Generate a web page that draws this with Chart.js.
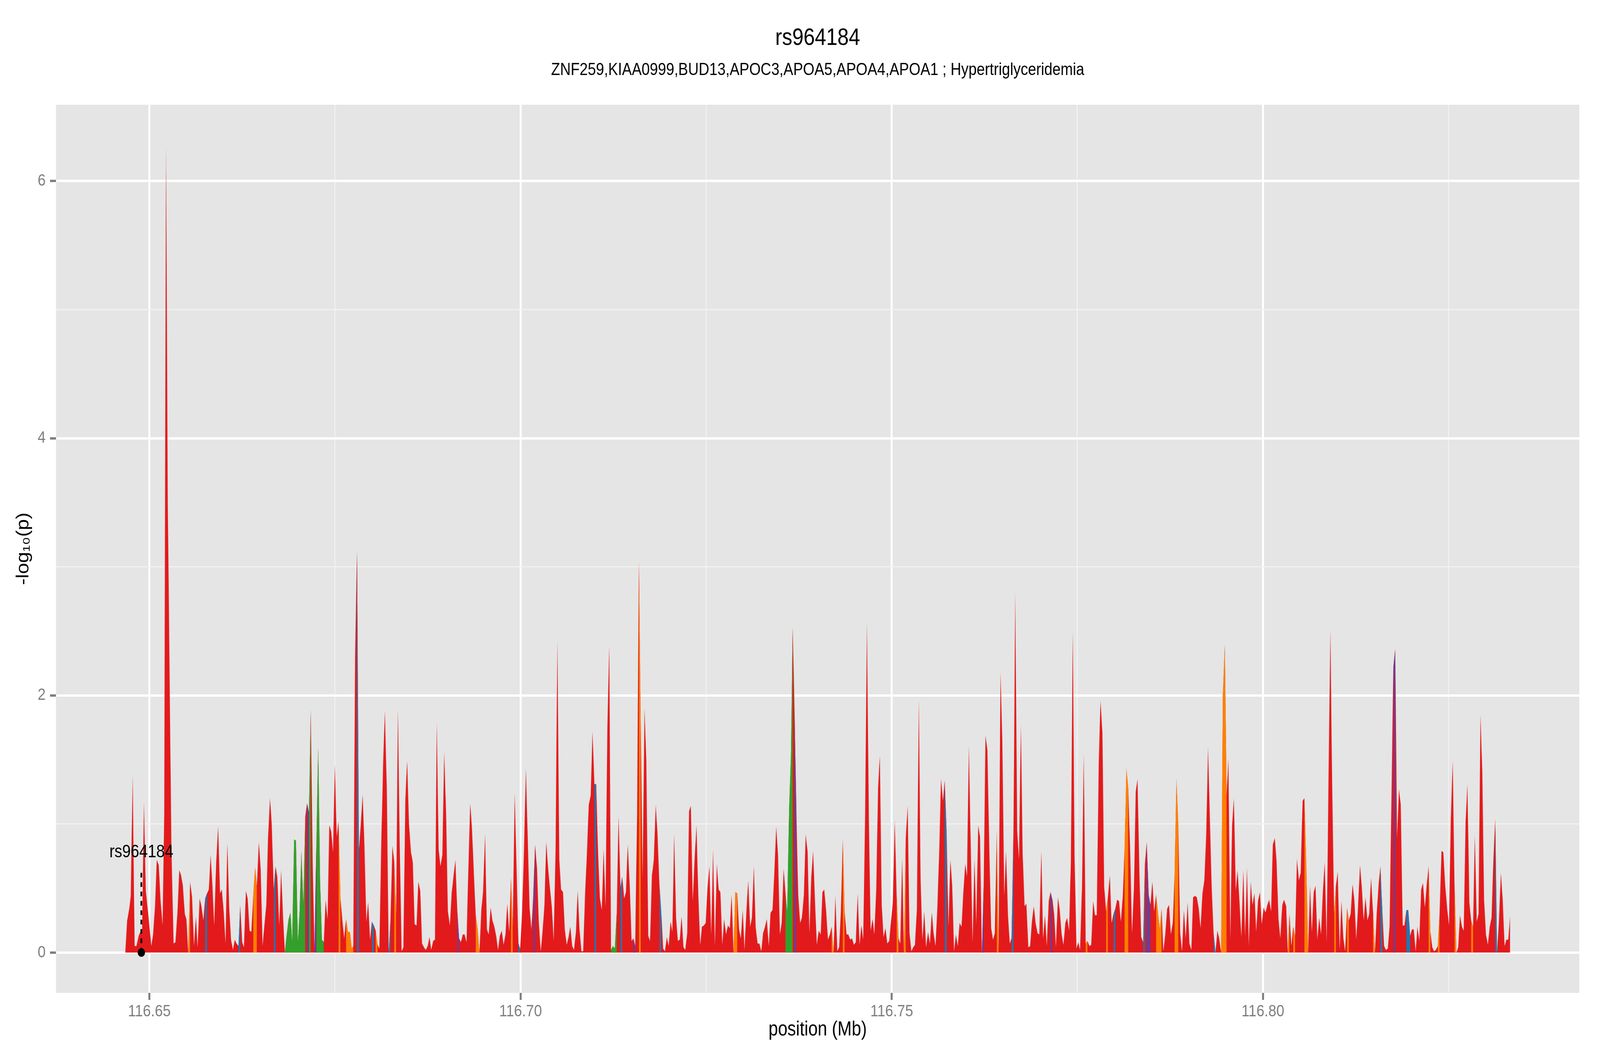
<!DOCTYPE html>
<html>
<head>
<meta charset="utf-8">
<script src="https://cdn.jsdelivr.net/npm/chart.js@4.4.1/dist/chart.umd.min.js"></script>
<style>
html,body{margin:0;padding:0;background:#ffffff;overflow:hidden;}
canvas{display:block;}
</style>
</head>
<body>
<canvas id="chart" width="4800" height="2700" style="width:100vw;height:100vh"></canvas>
<script>
// ---------------- DATA ----------------
const chartTitle = 'rs964184';
const chartSubtitle = 'ZNF259,KIAA0999,BUD13,APOC3,APOA5,APOA4,APOA1 ; Hypertriglyceridemia';
const xAxisTitle = 'position (Mb)';
const yAxisTitle = '-log\u2081\u2080(p)';

// SNP positions (Mb)
const positions = [
116.64675,116.64701,116.64729,116.64749,116.64775,116.64801,116.64825,116.64856,116.64878,116.64902,
116.64926,116.64952,116.64986,116.65026,116.65050,116.65076,116.65100,116.65126,116.65150,116.65178,
116.65200,116.65224,116.65248,116.65296,116.65326,116.65351,116.65377,116.65403,116.65427,116.65451,
116.65477,116.65499,116.65523,116.65549,116.65575,116.65601,116.65627,116.65649,116.65677,116.65701,
116.65727,116.65751,116.65777,116.65801,116.65825,116.65851,116.65873,116.65900,116.65926,116.65952,
116.65976,116.66002,116.66026,116.66050,116.66076,116.66100,116.66126,116.66150,116.66174,116.66200,
116.66224,116.66250,116.66274,116.66300,116.66324,116.66350,116.66374,116.66400,116.66424,116.66448,
116.66475,116.66500,116.66525,116.66549,116.66575,116.66599,116.66625,116.66649,116.66675,116.66699,
116.66723,116.66749,116.66775,116.66799,116.66825,116.66850,116.66876,116.66900,116.66924,116.66950,
116.66974,116.67000,116.67024,116.67048,116.67074,116.67100,116.67124,116.67150,116.67174,116.67200,
116.67224,116.67250,116.67274,116.67300,116.67324,116.67350,116.67374,116.67400,116.67424,116.67450,
116.67474,116.67498,116.67524,116.67548,116.67574,116.67598,116.67624,116.67649,116.67675,116.67701,
116.67725,
116.67747,116.67771,116.67797,116.67823,116.67847,116.67873,116.67897,116.67923,116.67947,116.67973,
116.67997,116.68024,116.68048,116.68074,116.68098,116.68124,116.68148,116.68172,116.68198,116.68224,
116.68248,116.68274,116.68298,116.68324,116.68348,116.68372,116.68398,116.68422,116.68448,116.68472,
116.68498,116.68524,116.68549,116.68573,116.68599,116.68623,116.68649,116.68673,116.68699,116.68723,
116.68749,116.68773,116.68797,116.68823,116.68847,116.68871,116.68897,116.68921,116.68947,116.68971,
116.68997,116.69021,116.69048,116.69072,116.69098,116.69122,116.69148,116.69172,116.69196,116.69222,
116.69246,116.69272,116.69296,116.69322,116.69346,116.69370,116.69396,116.69422,116.69446,116.69472,
116.69496,116.69522,116.69547,116.69571,116.69597,116.69621,116.69647,116.69671,116.69697,116.69721,
116.69747,116.69771,116.69797,116.69821,116.69847,116.69871,116.69895,116.69921,116.69971,116.69995,
116.70021,116.70046,116.70072,116.70096,116.70122,116.70146,116.70172,116.70196,116.70222,116.70246,
116.70272,116.70296,116.70322,116.70346,116.70372,116.70396,116.70422,116.70446,116.70472,116.70496,
116.70522,116.70546,116.70572,116.70596,116.70622,116.70646,116.70670,116.70696,116.70720,116.70746,
116.70770,116.70794,116.70820,116.70844,116.70870,
116.70889,116.70919,116.70945,116.70969,116.70995,116.71019,116.71045,116.71069,116.71095,116.71119,
116.71145,116.71169,116.71195,116.71219,116.71245,116.71270,116.71296,116.71320,116.71346,116.71370,
116.71396,116.71420,116.71444,116.71470,116.71496,116.71520,116.71544,116.71570,116.71594,116.71620,
116.71644,116.71670,116.71694,116.71720,116.71744,116.71770,116.71795,116.71821,116.71845,116.71871,
116.71895,116.71921,116.71945,116.71971,116.71995,116.72021,116.72045,116.72069,116.72095,116.72119,
116.72145,116.72169,116.72195,116.72219,116.72245,116.72270,116.72294,116.72320,116.72344,116.72370,
116.72394,116.72420,116.72444,116.72470,116.72494,116.72518,116.72544,116.72568,116.72594,116.72618,
116.72644,116.72668,116.72692,116.72718,116.72742,116.72769,116.72793,116.72819,116.72843,116.72869,
116.72893,116.72919,116.72943,116.72967,116.72993,116.73017,116.73043,116.73067,116.73093,116.73117,
116.73143,116.73167,116.73193,116.73217,116.73243,116.73267,116.73293,116.73317,116.73344,116.73368,
116.73394,116.73418,116.73444,116.73468,116.73494,116.73518,116.73544,116.73568,116.73592,116.73618,
116.73642,116.73666,116.73690,116.73716,116.73740,116.73766,116.73790,116.73817,116.73841,116.73867,
116.73891,116.73917,116.73941,116.73967,116.73991,116.74017,
116.74043,116.74067,116.74091,116.74117,116.74141,116.74167,116.74191,116.74217,116.74241,116.74267,
116.74291,116.74315,116.74341,116.74365,116.74391,116.74415,116.74441,116.74465,116.74491,116.74516,
116.74542,116.74566,116.74592,116.74616,116.74642,116.74666,116.74692,116.74716,116.74742,116.74766,
116.74792,116.74816,116.74840,116.74866,116.74890,116.74916,116.74940,116.74966,116.74990,116.75015,
116.75041,116.75065,116.75091,116.75115,116.75141,116.75165,116.75189,116.75215,116.75239,116.75265,
116.75289,116.75313,116.75339,116.75365,116.75389,116.75413,116.75439,116.75463,116.75489,116.75514,
116.75540,116.75564,116.75590,116.75614,116.75640,116.75664,116.75690,116.75714,116.75740,116.75764,
116.75790,116.75814,116.75840,116.75864,116.75890,116.75914,116.75940,116.75964,116.75990,116.76014,
116.76039,116.76065,116.76089,116.76115,116.76139,116.76165,116.76189,116.76215,116.76239,116.76263,
116.76289,116.76315,116.76339,116.76365,116.76389,116.76415,116.76439,116.76465,116.76489,116.76516,
116.76540,116.76566,116.76590,116.76614,116.76640,116.76664,116.76690,116.76714,116.76740,116.76764,
116.76790,116.76814,116.76840,116.76864,116.76890,116.76914,116.76938,116.76964,116.76988,116.77015,
116.77039,116.77065,116.77089,116.77115,116.77139,116.77165,
116.77188,116.77212,116.77239,116.77263,116.77289,116.77313,116.77339,116.77363,116.77389,116.77413,
116.77439,116.77463,116.77489,116.77513,116.77537,116.77563,116.77587,116.77613,116.77637,116.77663,
116.77687,116.77714,116.77738,116.77762,116.77788,116.77812,116.77838,116.77862,116.77888,116.77912,
116.77938,116.77962,116.77988,116.78012,116.78036,116.78062,116.78086,116.78112,116.78136,116.78162,
116.78186,116.78212,116.78237,116.78263,116.78287,116.78311,116.78337,116.78361,116.78387,116.78411,
116.78435,116.78461,116.78485,116.78511,116.78535,116.78561,116.78585,116.78611,116.78635,116.78659,
116.78685,116.78710,116.78736,116.78760,116.78786,116.78810,116.78836,116.78860,116.78886,116.78910,
116.78936,116.78960,116.78986,116.79010,116.79036,116.79060,116.79086,116.79110,116.79136,116.79160,
116.79186,116.79211,116.79237,116.79261,116.79287,116.79311,116.79337,116.79361,116.79387,116.79411,
116.79437,116.79461,116.79487,116.79511,116.79535,116.79561,116.79585,116.79609,116.79635,116.79659,
116.79685,116.79710,116.79736,116.79760,116.79786,116.79810,116.79836,116.79860,116.79886,116.79910,
116.79934,116.79960,116.79984,116.80010,116.80034,116.80060,116.80084,116.80110,116.80134,116.80160,
116.80184,116.80210,116.80234,116.80261,116.80285,
116.80314,116.80334,116.80358,116.80384,116.80408,116.80434,116.80459,116.80485,116.80509,116.80535,
116.80559,116.80585,116.80609,116.80635,116.80659,116.80685,116.80709,116.80733,116.80759,116.80783,
116.80809,116.80833,116.80859,116.80883,116.80909,116.80933,116.80960,116.80984,116.81008,116.81034,
116.81058,116.81084,116.81108,116.81134,116.81158,116.81182,116.81208,116.81232,116.81258,116.81282,
116.81308,116.81332,116.81358,116.81382,116.81408,116.81432,116.81457,116.81483,116.81509,116.81533,
116.81559,116.81583,116.81609,116.81633,116.81657,116.81683,116.81707,116.81757,116.81783,116.81807,
116.81833,116.81857,116.81883,116.81907,116.81933,116.81958,116.81984,116.82008,116.82032,116.82058,
116.82082,116.82106,116.82132,116.82156,116.82182,116.82206,116.82232,116.82256,116.82282,116.82306,
116.82330,116.82356,116.82380,116.82406,116.82430,116.82456,116.82481,116.82507,116.82531,116.82557,
116.82581,116.82607,116.82631,116.82655,116.82681,116.82705,116.82731,116.82755,116.82781,116.82805,
116.82831,116.82855,116.82881,116.82905,116.82931,116.82955,116.82980,116.83005,116.83030,116.83056,
116.83080,116.83106,116.83130,116.83154,116.83180,116.83206,116.83230,116.83256,116.83280,116.83306,
116.83330
];

// -log10(p) at each position
const logP = [
0,0.25,0.34,0.44,1.38,0.05,0.05,0.13,0.16,0.14,
1.17,0.48,0.29,0.05,0.14,0.36,0.72,0.68,0.41,0.21,
1.08,6.28,3.5,0.85,0.07,0.08,0.30,0.64,0.60,0.52,
0.30,0.26,0,0.55,0.43,0.05,0.28,0.04,0.42,0.36,
0.25,0.42,0.46,0.49,0.76,0.50,0.21,0.70,0.98,0.46,
0.49,0.31,0.07,0.85,0.34,0.10,0.02,0.10,0.07,0.05,
0.37,0.08,0.04,0.48,0.42,0.17,0.16,0.45,0.66,0.52,
0.86,0.64,0.05,0.21,0.37,0.90,1.20,0.99,0.49,0.67,
0.59,0.21,0.64,0.30,0,0.14,0.26,0.31,0.08,0.88,
0.87,0.08,0.32,0.79,0.36,1.06,1.16,1.09,1.89,0.70,
0.02,0.85,1.59,0.55,0.10,0.08,0.41,0.26,0.99,0.94,
0.78,1.46,0.90,1.02,0.42,0.26,0.11,0.26,0.16,0.16,
0.03,
0.05,2.3,3.12,0.80,0.99,1.23,0.83,0.24,0.39,0.10,
0.24,0.21,0.17,0.06,0.03,0.85,1.45,1.88,1.28,0,
0.25,0.83,0.71,0.30,1.89,0.85,0.01,0.04,1.19,1.49,
0.99,0.78,0.70,0.22,0.21,0.55,0.48,0.07,0.04,0.02,
0.05,0.12,0.02,0.09,0.10,1.79,0.80,0.67,0.76,1.56,
1.08,0.32,0.21,0.46,0.60,0.72,0.32,0.11,0.08,0.14,
0.14,0.08,0.63,1.16,0.96,0.63,0.29,0.18,0,0.33,
0.48,0.92,0.18,0.14,0.35,0.25,0.20,0.13,0.02,0.13,
0.17,0.06,0.14,0.38,0.16,0.58,0.2,1.24,0.07,0.03,
0.32,0.79,1.43,0.90,0.34,0.18,0.45,0.84,0.65,0.23,
0.01,0.16,0.37,0.86,0.65,0.50,0.35,0.09,0.81,2.43,
0.72,0.49,0.47,0.18,0.06,0.12,0.20,0.05,0.02,0.16,
0.48,0.18,0.01,0.01,0.47,
0.70,1.15,1.22,1.72,1.31,1.31,0.76,0.42,0.33,0.81,
0.35,1.74,2.38,0.02,0.05,0.03,0.31,1.06,0.51,0.59,
0.42,0.47,0.84,0.53,0.09,0.11,0.05,1.08,3.04,1.74,
0.57,1.90,1.49,0.13,0.09,0.60,0.72,1.15,0.92,0.52,
0.32,0.03,0.01,0.12,0.05,0.24,0.16,0.92,0.27,0.09,
0.10,0.28,0.04,0.02,0.15,1.10,1.14,0.40,0.72,0.99,
0.45,0.06,0.20,0.21,0.23,0.50,0.67,0.14,0.80,0.05,
0.69,0.49,0.47,0.06,0.26,0.14,0.21,0.19,0.45,0,
0.47,0.46,0.18,0.11,0.33,0.02,0.33,0.56,0.20,0.27,
0.67,0.20,0.07,0.07,0.01,0.15,0.20,0.26,0.05,0.31,
0.33,0.61,0.98,0.76,0.14,0.23,0.65,0.47,0.31,1.12,
1.52,2.53,1.90,1.08,0.45,0.23,0.27,0.45,0.92,0.78,
0.15,0.59,0.79,0.39,0.06,0.17,
0.14,0.47,0.49,0.32,0.10,0.14,0.20,0,0.44,0.01,
0.04,0.31,0.88,0.32,0.14,0.14,0.10,0.11,0.06,0.08,
0.46,0.06,0.21,0.10,1.08,2.57,1.03,0.17,0.26,0.14,
0.50,1.28,1.53,0.36,0.12,0.19,0.07,0.09,0.24,0.39,
1.03,0.46,0.11,0.07,0.73,0,0.89,1.14,0.15,0.01,
0.04,0.06,0.34,1.97,0.56,0.10,0.32,0.04,0.16,0.07,
0.31,0.15,0.05,0.34,0.79,1.35,1.18,1.34,0.92,0.20,
0.72,0.53,0.01,0.14,0.05,0.23,0.20,0.46,0.69,0.59,
1.61,0.81,0.08,0.73,0.22,0.99,0.90,0,0.52,1.69,
1.57,0.79,0.19,0.10,0.15,0.95,0,2.18,1.67,0.44,
0.79,0.29,0.07,0.11,0.94,2.80,0.95,0.72,1.77,0.76,
0.36,0.38,0.04,0.05,0.25,0.36,0.23,0.15,0.14,0.79,
0.11,0.29,0.05,0.40,0.47,0.41,
0.30,0.04,0.43,0.33,0.14,0.06,0.23,0.27,0.17,0.70,
2.49,0.74,0.03,0.08,0.02,0.50,1.55,0.07,0.09,0.05,
0.06,0.40,0.29,0.29,1.45,1.96,1.71,0.51,0.32,0.43,
0.60,0.23,0.30,0.34,0.41,0.40,0.24,0.43,0.79,1.43,
1.27,0.79,0.15,0.50,1.25,1.35,0.60,0.12,0.08,0.69,
0.86,0.45,0.37,0.55,0.32,0.45,0.32,0.18,0.34,0.01,
0.14,0.34,0.37,0.14,0.23,0.59,1.35,0.99,0.15,0.01,
0.33,0.11,0.39,0.07,0.02,0.43,0.44,0.43,0.34,0.19,
0.46,0.56,0.92,1.60,1.01,0.49,0.14,0,0.17,0.11,
0,2.01,2.39,1.21,1.51,0.10,0.99,1.20,0.48,0.64,
0.39,0.12,0.64,0.13,0.66,0.05,0.55,0.37,0.46,0.16,
0.40,0.47,0.22,0.35,0.31,0.37,0.41,0.32,0.84,0.89,
0.71,0.26,0.11,0.37,0.41,
0.36,0,0.30,0.05,0.20,0.13,0.73,0.56,0.62,1.18,
1.20,0.67,0,0.52,0.16,0.47,0.52,0.10,0.27,0.14,
0.49,0.70,0.08,1.30,2.51,1.30,0.31,0.52,0.63,0.02,
0.40,0.11,0.01,0.35,0.25,0.30,0.53,0.41,0.10,0.36,
0.68,0.51,0.25,0.43,0.25,0.30,0.58,0.32,0,0.30,
0.53,0.67,0.32,0.05,0.02,0.03,0.21,2.22,2.36,0.89,
1.27,1.15,0.21,0.21,0.33,0.33,0.13,0.18,0.18,0.01,
0.20,0.09,0.49,0.54,0.35,0.52,0.67,0.16,0.04,0.01,
0.02,0.05,0.30,0.79,0.78,0.52,0.35,0.21,1.03,1.49,
0.53,0,0.04,0.29,0.20,0.17,1.02,1.31,0.39,0.25,
0.20,0.91,0.24,0.30,1.85,1.41,0.40,0.14,0.06,0.20,
0.27,0.74,1.04,0,0.25,0.62,0.41,0.05,0.10,0.10,
0.29
];

// Annotation classes: positions of SNPs whose following interval belongs to each class
const classAPositions = [116.65523,116.66400,116.66424,116.67548,116.67649,116.67675,116.67701,116.67725,116.68048,116.68298,
  116.69396,116.69422,116.69871,116.71594,116.72869,116.72893,116.74191,116.74341,116.75065,116.75165,116.76415,116.77613,
  116.77888,116.78136,116.78162,116.78561,116.78585,116.78611,116.78810,116.78836,116.79437,116.79461,116.79487,116.80334,
  116.80408,116.80559,116.80585,116.80960,116.81134,116.81483,116.82232,116.82356,116.82581,116.82805];
const classBPositions = [116.65751,116.66200,116.66675,116.67797,116.67997,116.68224,116.69971,116.70995,116.71346,116.71871,
  116.75714,116.76614,116.77988,116.78387,116.79337,116.81583,116.81933,116.81958,116.83130];
const classCPositions = [116.66825,116.66850,116.66876,116.66900,116.66924,116.66950,116.66974,116.67000,116.67024,116.67048,
  116.67074,116.67150,116.67250,116.67274,116.67300,116.67324,116.71219,116.71245,116.71270,116.73568,116.73592,116.73618,116.73642];
const classDPositions = [116.67124,116.67224,116.69148,116.70172,116.71520,116.73690,116.76215,116.77139,116.78435,116.78461,116.81757];

// Lead SNP annotation
const leadSnpName = 'rs964184';
const leadSnpPos = 116.64892;
const leadSnpLineTop = 0.62;
const leadSnpLabelY = 0.78;

// Axis ticks
const xMajorTicks = [116.65, 116.70, 116.75, 116.80];
const xTickLabels = ['116.65', '116.70', '116.75', '116.80'];
const xMinorTicks = [116.675, 116.725, 116.775, 116.825];
const yMajorTicks = [0, 2, 4, 6];
const yTickLabels = ['0', '2', '4', '6'];
const yMinorTicks = [1, 3, 5];

// ---------------- STYLE / CHART ----------------
const FONT = '"Liberation Sans", Arial, Helvetica, sans-serif';
const baseFill = '#E31A1C';
const classFill = {A: '#FF7F00', B: '#1F78B4', C: '#33A02C', D: '#6A3D9A'};
const classByKey = new Map();
[['A', classAPositions], ['B', classBPositions], ['C', classCPositions], ['D', classDPositions]]
  .forEach(([k, arr]) => arr.forEach(p => classByKey.set(Math.round(p * 1e5), k)));

const points = positions.map((x, i) => ({x: x, y: logP[i]}));

const xLo = Math.min(...positions), xHi = Math.max(...positions);
const yLo = 0, yHi = Math.max(...logP);
const xExp = (xHi - xLo) * 0.05, yExp = (yHi - yLo) * 0.05;

const near = (list, v) => list.findIndex(t => Math.abs(t - v) < 1e-7);
function gridFor(majors, tickLen) {
  const maj = c => c.tick && near(majors, c.tick.value) >= 0;
  return {
    color: c => maj(c) ? '#FFFFFF' : '#F2F2F2',
    lineWidth: c => maj(c) ? 6 : 3,
    tickColor: c => maj(c) ? '#7F7F7F' : 'rgba(0,0,0,0)',
    tickWidth: 6,
    tickLength: tickLen,
    drawTicks: true,
    drawOnChartArea: true
  };
}

const panelPlugin = {
  id: 'panelBg',
  beforeDraw(chart) {
    const {ctx, chartArea: a} = chart;
    ctx.save();
    ctx.fillStyle = '#FFFFFF';
    ctx.fillRect(0, 0, chart.width, chart.height);
    ctx.fillStyle = '#E5E5E5';
    ctx.fillRect(a.left, a.top, a.right - a.left, a.bottom - a.top);
    ctx.restore();
  }
};
const leadLabelPlugin = {
  id: 'leadLabel',
  afterDatasetsDraw(chart) {
    const {ctx, scales} = chart;
    ctx.save();
    ctx.font = '46px ' + FONT;
    ctx.fillStyle = '#000000';
    ctx.textAlign = 'center';
    ctx.textBaseline = 'middle';
    ctx.fillText(leadSnpName, scales.x.getPixelForValue(leadSnpPos), scales.y.getPixelForValue(leadSnpLabelY));
    ctx.restore();
  }
};

const overlayColor = c => {
  const k = classByKey.get(Math.round(positions[c.p0DataIndex] * 1e5));
  return k ? classFill[k] : 'rgba(0,0,0,0)';
};

new Chart(document.getElementById('chart'), {
  type: 'line',
  data: {
    datasets: [
      {
        type: 'scatter',
        data: [{x: leadSnpPos, y: 0}],
        pointRadius: 11,
        pointBackgroundColor: '#000000',
        pointBorderWidth: 0
      },
      {
        type: 'line',
        data: [{x: leadSnpPos, y: 0}, {x: leadSnpPos, y: leadSnpLineTop}],
        borderColor: '#000000',
        borderWidth: 5,
        borderDash: [12, 12],
        pointRadius: 0,
        fill: false
      },
      {
        type: 'line',
        data: points,
        borderColor: 'rgba(0,0,0,0)',
        borderWidth: 0,
        backgroundColor: 'rgba(0,0,0,0)',
        pointRadius: 0,
        tension: 0,
        fill: 'origin',
        segment: {backgroundColor: overlayColor}
      },
      {
        type: 'line',
        data: points,
        borderColor: 'rgba(0,0,0,0)',
        borderWidth: 0,
        backgroundColor: baseFill,
        pointRadius: 0,
        tension: 0,
        fill: 'origin'
      }
    ]
  },
  options: {
    responsive: false,
    animation: false,
    devicePixelRatio: 1,
    events: [],
    layout: {padding: {left: 0, right: 62, top: 0, bottom: 0}},
    plugins: {
      legend: {display: false},
      tooltip: {enabled: false},
      title: {
        display: true, text: chartTitle, color: '#000000', fullSize: false,
        font: {family: FONT, size: 61, weight: 'normal', lineHeight: 1.2},
        padding: {top: 62, bottom: 0}
      },
      subtitle: {
        display: true, text: chartSubtitle, color: '#000000', fullSize: false,
        font: {family: FONT, size: 44, weight: 'normal', lineHeight: 1.2},
        padding: {top: 18, bottom: 62}
      }
    },
    scales: {
      x: {
        type: 'linear',
        min: xLo - xExp,
        max: xHi + xExp,
        afterBuildTicks: s => { s.ticks = xMajorTicks.concat(xMinorTicks).sort((a, b) => a - b).map(v => ({value: v})); },
        afterFit: s => { s.height = 159; },
        ticks: {
          autoSkip: false, maxRotation: 0, padding: 4, color: '#7F7F7F',
          font: {family: FONT, size: 43},
          callback: v => { const i = near(xMajorTicks, v); return i >= 0 ? xTickLabels[i] : ''; }
        },
        grid: gridFor(xMajorTicks, 18),
        border: {display: false},
        title: {
          display: true, text: xAxisTitle, color: '#000000',
          font: {family: FONT, size: 51, lineHeight: 1.2},
          padding: {top: 0, bottom: 33}
        }
      },
      y: {
        type: 'linear',
        min: yLo - yExp,
        max: yHi + yExp,
        afterBuildTicks: s => { s.ticks = yMajorTicks.concat(yMinorTicks).sort((a, b) => a - b).map(v => ({value: v})); },
        afterFit: s => { s.width = 168; },
        ticks: {
          autoSkip: false, padding: 13, color: '#7F7F7F',
          font: {family: FONT, size: 43},
          callback: v => { const i = near(yMajorTicks, v); return i >= 0 ? yTickLabels[i] : ''; }
        },
        grid: gridFor(yMajorTicks, 18),
        border: {display: false},
        title: {
          display: true, text: yAxisTitle, color: '#000000',
          font: {family: FONT, size: 51, lineHeight: 1.2},
          padding: {top: 40, bottom: 0}
        }
      }
    }
  },
  plugins: [panelPlugin, leadLabelPlugin]
});
</script>
</body>
</html>
